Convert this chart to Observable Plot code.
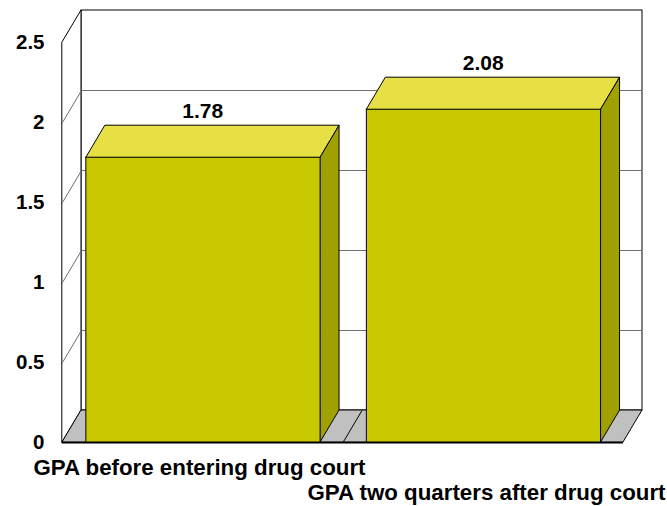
<!DOCTYPE html>
<html>
<head>
<meta charset="utf-8">
<script src="https://cdn.jsdelivr.net/npm/d3@7"></script>
<script src="https://cdn.jsdelivr.net/npm/@observablehq/plot@0.6"></script>
<style>
  html, body { margin: 0; padding: 0; background: #fff; }
  #chart svg { display: block; }
</style>
</head>
<body>
<div id="chart"></div>
<script>
// GPA of drug court participants, before and after
const categories = ["GPA before entering drug court", "GPA two quarters after drug court"];
const gpa = [1.78, 2.08];
const yTicks = [0, 0.5, 1, 1.5, 2, 2.5];
const yTickLabels = ["0", "0.5", "1", "1.5", "2", "2.5"];

// 3-D depth of the box, in data units
const depthX = 0.0677;
const depthY = 0.2;
const yTop = 2.5;
const nCat = categories.length;
const barStart = 0.085, barEnd = 0.92;

const bars = gpa.map((v, i) => ({cat: categories[i], v, x1: i + barStart, x2: i + barEnd}));
const topFaces = bars.flatMap(b => [
  {cat: b.cat, y: b.v, x1: b.x1, x2: b.x2},
  {cat: b.cat, y: b.v + depthY, x1: b.x1 + depthX, x2: b.x2 + depthX}
]);
const sideFaces = bars.flatMap(b => [
  {cat: b.cat, x: b.x2, y1: 0, y2: b.v},
  {cat: b.cat, x: b.x2 + depthX, y1: depthY, y2: b.v + depthY}
]);
const inner = yTicks.filter(t => t > 0 && t < yTop);
const font = "Liberation Sans, Arial, sans-serif";

const chart = Plot.plot({
  width: 667,
  height: 506,
  marginTop: 10,
  marginBottom: 64,
  marginLeft: 62,
  marginRight: 25,
  style: {fontFamily: font, background: "#fff"},
  x: {type: "linear", domain: [0, nCat + depthX], axis: null},
  y: {type: "linear", domain: [0, yTop + depthY], axis: null},
  marks: [
    // back wall
    Plot.rect([0], {x1: depthX, x2: nCat + depthX, y1: depthY, y2: yTop + depthY, fill: "#fff", stroke: "#000"}),
    Plot.ruleY(inner, {y: d => d + depthY, x1: depthX, x2: nCat + depthX, stroke: "#707070", strokeWidth: 1}),
    // side wall
    Plot.areaY([{x: 0, y1: 0, y2: yTop}, {x: depthX, y1: depthY, y2: yTop + depthY}],
      {x: "x", y1: "y1", y2: "y2", fill: "#fff", stroke: "#000", strokeWidth: 1}),
    Plot.link(inner, {x1: 0, y1: d => d, x2: depthX, y2: d => d + depthY, stroke: "#707070", strokeWidth: 1}),
    // floor
    Plot.areaX([{y: 0, x1: 0, x2: nCat}, {y: depthY, x1: depthX, x2: nCat + depthX}],
      {y: "y", x1: "x1", x2: "x2", fill: "#c0c0c0", stroke: "#000", strokeWidth: 1}),
    Plot.link(d3.range(1, nCat), {x1: d => d, y1: 0, x2: d => d + depthX, y2: depthY, stroke: "#000", strokeWidth: 1}),
    Plot.ruleY([0], {x1: 0, x2: nCat, stroke: "#000", strokeWidth: 2}),
    // bars: top, side and front faces
    Plot.areaX(topFaces, {y: "y", x1: "x1", x2: "x2", z: "cat", fill: "#e6e044", stroke: "#000", strokeWidth: 1}),
    Plot.areaY(sideFaces, {x: "x", y1: "y1", y2: "y2", z: "cat", fill: "#a0a000", stroke: "#000", strokeWidth: 1}),
    Plot.rect(bars, {x1: "x1", x2: "x2", y1: 0, y2: "v", fill: "#c8c800", stroke: "#000", strokeWidth: 1}),
    // value labels
    Plot.text(bars, {x: (d, i) => i + 0.5, y: d => d.v + depthY, text: d => d.v.toFixed(2),
      dy: -14, fontSize: 21, fontWeight: "bold", fill: "#000"}),
    // y tick labels
    Plot.text(yTicks, {x: 0, y: d => d, text: (d, i) => yTickLabels[i], textAnchor: "end",
      dx: -18, fontSize: 20.5, fontWeight: "bold", fill: "#000"}),
    // category labels, staggered on two rows
    Plot.text([categories[0]], {x: 0, y: 0, text: d => d, textAnchor: "start", dx: -29, dy: 25,
      fontSize: 22.3, fontWeight: "bold", fill: "#000"}),
    Plot.text([categories[1]], {x: nCat + depthX, y: 0, text: d => d, textAnchor: "end", dx: 23, dy: 50,
      fontSize: 22.3, fontWeight: "bold", fill: "#000"})
  ]
});
document.getElementById("chart").append(chart);
</script>
</body>
</html>
